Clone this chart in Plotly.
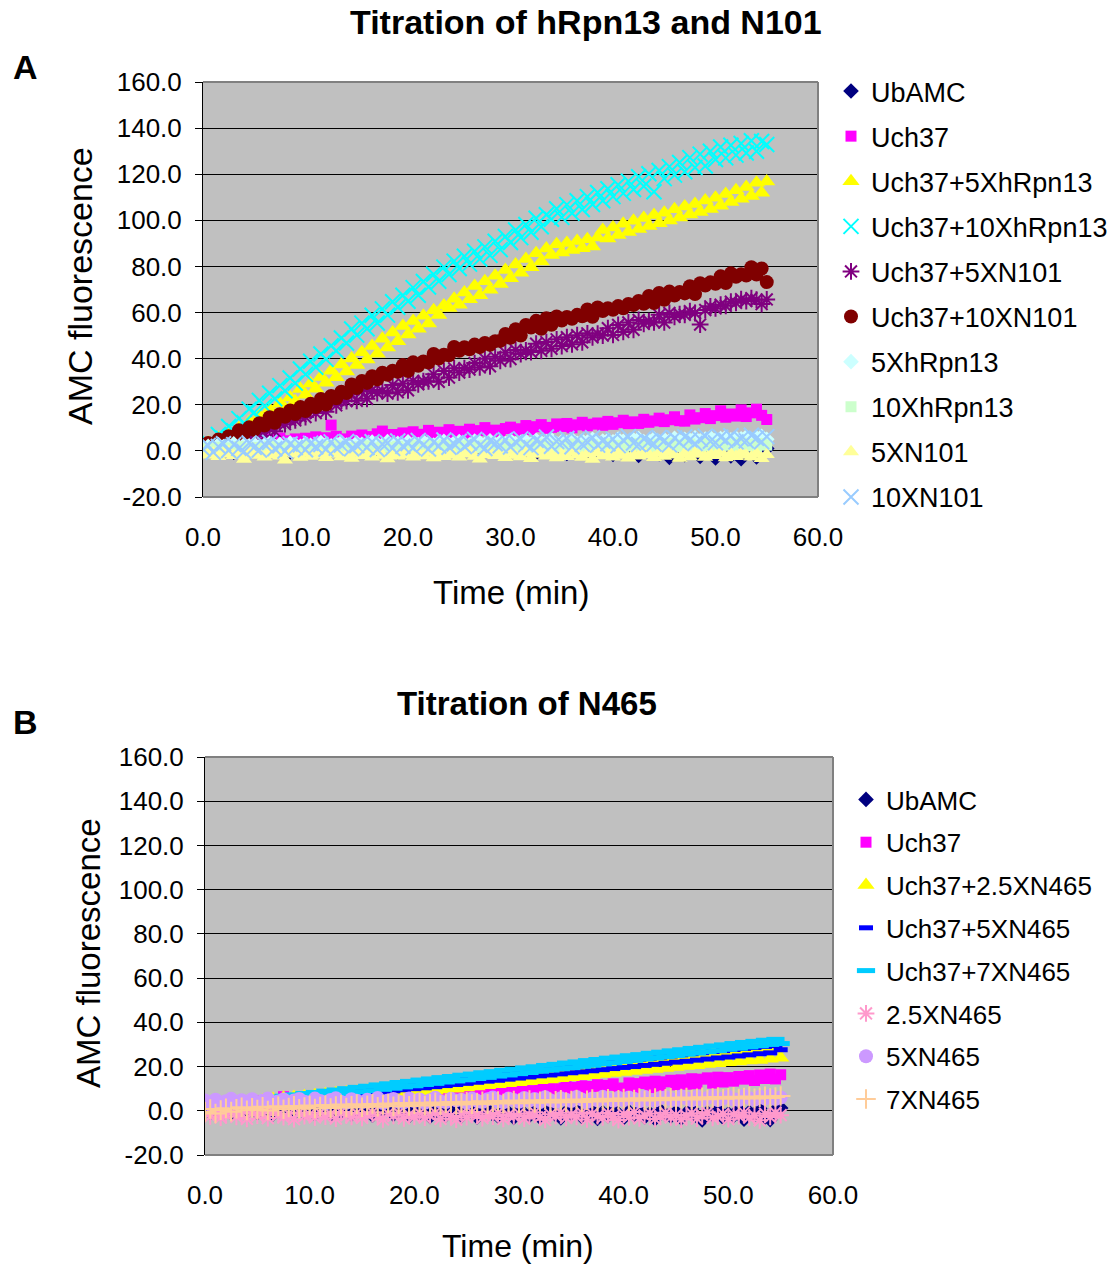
import plotly.graph_objects as go

# ---------------- data ----------------
time_min = [
    0.0, 0.5, 1.0, 1.5, 2.0, 2.5, 3.0, 3.5, 4.0, 4.5,
    5.0, 5.5, 6.0, 6.5, 7.0, 7.5, 8.0, 8.5, 9.0, 9.5,
    10.0, 10.5, 11.0, 11.5, 12.0, 12.5, 13.0, 13.5, 14.0, 14.5,
    15.0, 15.5, 16.0, 16.5, 17.0, 17.5, 18.0, 18.5, 19.0, 19.5,
    20.0, 20.5, 21.0, 21.5, 22.0, 22.5, 23.0, 23.5, 24.0, 24.5,
    25.0, 25.5, 26.0, 26.5, 27.0, 27.5, 28.0, 28.5, 29.0, 29.5,
    30.0, 30.5, 31.0, 31.5, 32.0, 32.5, 33.0, 33.5, 34.0, 34.5,
    35.0, 35.5, 36.0, 36.5, 37.0, 37.5, 38.0, 38.5, 39.0, 39.5,
    40.0, 40.5, 41.0, 41.5, 42.0, 42.5, 43.0, 43.5, 44.0, 44.5,
    45.0, 45.5, 46.0, 46.5, 47.0, 47.5, 48.0, 48.5, 49.0, 49.5,
    50.0, 50.5, 51.0, 51.5, 52.0, 52.5, 53.0, 53.5, 54.0, 54.5, 55.0]

# Panel A
a_ubamc = [
    0.5, 1.2, -0.4, 0.8, 1.5, 0.2, -0.6, 1.0, 0.4, 1.8,
    0.9, -0.2, 1.3, 0.6, 2.0, 0.1, 1.1, -0.5, 0.7, 1.6,
    0.3, 1.9, 0.8, -0.3, 1.4, 0.5, 2.1, 0.9, 0.0, 1.2,
    1.7, 0.4, -0.2, 1.5, 0.8, 2.2, 0.6, 1.0, -0.4, 1.3,
    0.7, 1.8, 0.2, 1.1, 2.4, 0.5, -0.1, 1.6, 0.9, 2.0,
    0.3, 1.4, 0.8, -0.5, 1.9, 1.2, 0.4, 2.3, 0.6, 1.5,
    -0.3, 1.0, 2.1, 0.7, 1.3, -0.8, 1.7, 0.5, 2.4, 0.9,
    1.2, -1.1, 0.6, 1.8, 2.2, -0.4, 1.0, 0.3, 2.6, 1.4,
    -1.5, 0.8, 1.9, 0.2, 2.5, -2.0, 1.1, 0.5, 3.0, -1.2,
    1.6, -2.8, 0.9, 2.2, -1.6, 1.3, 3.1, -2.4, 0.7, 2.0,
    -3.1, 1.5, 2.8, -2.2, 0.4, -3.4, 2.3, 1.1, -2.6, 3.2, 1.0]
a_uch37 = [
    1.8, 2.5, 3.1, 2.2, 3.6, 2.9, 4.0, 3.3, 2.7, 4.2,
    3.8, 4.5, 3.4, 5.0, 4.1, 5.6, 4.4, 3.9, 5.2, 4.8,
    5.5, 4.6, 6.1, 5.0, 5.7, 11.2, 6.3, 5.2, 4.9, 6.4,
    5.8, 6.9, 5.3, 6.2, 7.4, 8.6, 6.0, 7.1, 6.5, 7.8,
    6.9, 8.3, 7.2, 6.6, 8.9, 7.5, 8.1, 7.0, 9.2, 7.7,
    8.5, 7.6, 9.4, 8.0, 8.8, 10.1, 7.9, 9.0, 8.4, 9.7,
    10.3, 8.9, 9.6, 11.0, 9.2, 10.5, 11.4, 9.8, 10.2, 11.7,
    10.6, 11.9, 10.0, 11.3, 12.4, 10.9, 11.6, 12.1, 11.1, 12.8,
    11.5, 12.2, 13.3, 11.8, 12.6, 11.9, 13.7, 12.4, 13.0, 14.2,
    12.7, 13.5, 14.8, 13.1, 12.9, 15.6, 13.8, 14.4, 16.2, 14.0,
    15.3, 17.4, 14.6, 16.0, 15.1, 17.8, 14.9, 16.5, 18.1, 15.4, 13.6]
a_uch37_5xhrpn13 = [
    0.8, 3.5, 1.9, 5.6, 3.8, 7.9, 6.2, 9.8, 8.4, 12.6,
    11.2, 15.1, 13.0, 17.9, 15.8, 20.6, 18.4, 23.2, 21.5, 26.8,
    24.3, 29.2, 26.9, 32.1, 29.6, 34.8, 31.9, 37.5, 34.4, 40.1,
    37.2, 42.8, 39.6, 45.5, 42.1, 48.6, 44.8, 51.3, 47.6, 54.2,
    50.5, 56.3, 53.0, 58.6, 55.2, 61.0, 58.9, 63.1, 62.0, 66.0,
    63.4, 68.7, 65.8, 71.5, 67.5, 73.6, 69.9, 76.0, 72.4, 78.5,
    74.9, 80.8, 77.3, 83.2, 79.6, 85.7, 82.1, 87.8, 85.0, 89.6,
    86.0, 90.2, 87.1, 91.0, 87.9, 91.8, 88.7, 92.6, 95.8, 92.1,
    96.9, 93.6, 98.5, 94.9, 99.8, 96.2, 101.0, 97.5, 102.3, 98.7,
    103.3, 99.9, 104.8, 101.2, 106.0, 102.5, 107.1, 103.6, 108.6, 104.9,
    109.8, 106.3, 111.4, 107.9, 113.0, 109.4, 114.5, 110.6, 116.3, 112.0, 116.8]
a_uch37_10xhrpn13 = [
    0.4, 3.8, 2.2, 7.1, 5.4, 10.6, 8.7, 14.0, 12.2, 18.1,
    16.7, 21.9, 19.4, 25.0, 22.6, 28.3, 26.1, 31.6, 29.4, 35.5,
    33.2, 38.9, 36.3, 42.0, 39.7, 45.6, 43.4, 49.0, 46.8, 52.9,
    50.2, 55.4, 53.0, 58.8, 55.5, 61.6, 58.9, 64.7, 62.3, 67.5,
    64.9, 70.8, 67.5, 73.5, 71.1, 76.6, 73.6, 79.7, 76.5, 82.3,
    79.1, 84.4, 81.0, 86.6, 83.2, 88.5, 84.8, 90.9, 87.3, 93.0,
    90.4, 95.8, 92.5, 98.2, 94.8, 100.9, 97.2, 102.4, 100.5, 105.0,
    101.3, 106.8, 103.1, 108.5, 104.7, 110.3, 106.9, 112.1, 108.5, 113.7,
    110.3, 115.4, 111.7, 117.0, 113.4, 118.9, 114.8, 120.2, 112.4, 121.6,
    118.1, 123.3, 119.6, 125.1, 121.1, 127.2, 122.9, 128.7, 123.6, 130.0,
    126.4, 131.8, 127.1, 132.6, 128.3, 133.3, 129.2, 134.5, 130.0, 134.2, 132.9]
a_uch37_5xn101 = [
    0.8, 2.4, 0.3, 3.1, 1.2, 3.6, 2.5, 4.0, 3.7, 6.2,
    4.9, 8.0, 6.5, 9.9, 8.5, 12.0, 11.6, 13.3, 13.2, 15.0,
    14.7, 17.5, 16.4, 19.8, 17.0, 21.6, 19.8, 21.8, 21.6, 24.6,
    21.7, 25.8, 22.6, 26.4, 25.1, 26.1, 24.9, 28.6, 25.4, 29.2,
    26.3, 30.4, 28.9, 30.2, 30.2, 33.2, 30.0, 34.7, 31.8, 35.8,
    34.0, 35.9, 35.3, 38.1, 36.2, 40.0, 36.7, 40.8, 39.1, 42.7,
    39.8, 43.8, 42.0, 43.6, 42.9, 46.5, 43.4, 47.2, 44.3, 48.4,
    45.5, 49.3, 46.2, 50.2, 47.1, 51.0, 49.2, 50.8, 50.0, 53.2,
    50.3, 54.6, 51.6, 55.7, 52.5, 56.8, 55.1, 56.3, 55.8, 59.0,
    55.7, 59.8, 58.1, 59.3, 59.0, 60.6, 59.8, 54.8, 61.1, 62.7,
    61.8, 63.4, 62.9, 64.7, 64.2, 65.8, 65.0, 66.2, 65.6, 63.7, 65.7]
a_uch37_10xn101 = [
    2.1, 3.4, 2.6, 4.9, 3.9, 6.4, 5.5, 8.9, 7.4, 10.2,
    9.1, 12.0, 11.0, 14.6, 12.2, 15.9, 14.8, 17.5, 16.0, 19.0,
    17.3, 20.4, 19.0, 22.5, 20.1, 23.8, 22.8, 25.7, 25.1, 28.8,
    27.3, 30.3, 29.5, 32.4, 31.0, 33.9, 33.0, 34.8, 34.3, 37.2,
    34.6, 38.4, 36.9, 38.8, 38.3, 42.0, 40.1, 41.7, 41.5, 45.1,
    43.4, 45.0, 44.1, 46.1, 45.0, 46.8, 46.0, 47.6, 47.7, 50.7,
    49.1, 52.8, 50.0, 54.6, 53.5, 56.4, 53.0, 57.5, 54.7, 58.3,
    56.5, 58.1, 57.3, 59.0, 58.4, 61.3, 58.2, 62.2, 60.7, 61.9,
    61.2, 62.8, 61.9, 63.7, 63.3, 65.0, 63.8, 67.2, 64.1, 68.5,
    65.5, 69.1, 67.4, 68.9, 68.3, 71.4, 68.0, 72.7, 71.7, 73.1,
    72.5, 75.7, 72.8, 77.0, 75.5, 76.6, 76.1, 79.7, 76.5, 79.1, 73.2]
a_5xhrpn13 = [
    1.2, 2.0, 1.5, 2.8, 1.9, 2.4, 3.1, 1.7, 2.6, 2.2,
    3.0, 1.8, 2.5, 3.3, 2.1, 2.9, 1.6, 3.4, 2.7, 2.0,
    3.2, 2.4, 1.9, 3.6, 2.8, 2.2, 3.0, 3.7, 2.5, 1.8,
    3.5, 2.9, 2.3, 3.8, 3.1, 2.6, 4.0, 2.8, 3.3, 2.1,
    3.9, 3.0, 2.7, 4.1, 3.4, 2.5, 3.7, 4.2, 2.9, 3.5,
    4.0, 3.2, 2.6, 4.3, 3.6, 3.0, 4.4, 2.8, 3.9, 3.3,
    4.5, 3.1, 3.7, 4.2, 2.9, 4.6, 3.5, 3.9, 4.8, 3.2,
    4.1, 3.6, 4.9, 3.3, 4.4, 3.8, 5.0, 3.5, 4.3, 4.7,
    3.9, 5.1, 4.2, 3.6, 4.8, 5.3, 4.0, 4.5, 5.2, 3.8,
    4.9, 4.3, 5.5, 4.1, 5.0, 4.6, 5.7, 4.4, 5.1, 5.8,
    4.7, 5.4, 6.0, 4.8, 5.6, 5.2, 6.1, 4.9, 5.7, 6.3, 5.0]
a_10xhrpn13 = [
    0.5, 1.1, 0.2, 1.6, 0.8, 1.3, 0.4, 1.9, 1.0, 0.6,
    1.5, 0.3, 1.2, 2.0, 0.7, 1.4, 0.9, 1.8, 0.1, 1.3,
    2.1, 0.8, 1.6, 0.4, 1.9, 1.1, 2.3, 0.6, 1.4, 1.0,
    1.8, 0.5, 2.2, 1.3, 0.9, 2.4, 1.5, 0.7, 2.0, 1.2,
    0.8, 2.5, 1.6, 1.1, 2.3, 0.6, 1.9, 2.6, 1.0, 1.7,
    2.2, 0.9, 2.7, 1.4, 1.8, 2.4, 0.7, 2.1, 1.5, 2.8,
    1.2, 2.3, 1.9, 0.8, 2.6, 1.6, 2.9, 1.3, 2.0, 1.1,
    2.5, 1.8, 3.0, 1.4, 2.2, 0.9, 2.7, 2.0, 1.5, 3.1,
    1.7, 2.4, 1.0, 2.8, 2.1, 3.2, 1.6, 2.5, 1.3, 2.9,
    2.2, 3.3, 1.8, 2.6, 1.4, 3.0, 2.3, 1.9, 3.4, 2.0,
    2.7, 1.5, 3.1, 2.4, 1.8, 3.5, 2.1, 2.9, 1.6, 3.2, 2.5]
a_5xn101 = [
    -0.5, -1.8, -0.9, -2.4, -1.2, -0.3, -2.0, -1.5, -3.6, -0.8,
    -1.9, -1.1, -2.6, -0.4, -1.7, -2.2, -3.9, -0.9, -1.4, -2.8,
    -1.0, -2.3, -0.6, -1.8, -2.9, -1.3, -0.7, -2.5, -1.6, -3.2,
    -0.9, -2.0, -1.4, -2.7, -0.5, -1.9, -3.4, -1.1, -2.2, -0.8,
    -1.7, -2.6, -1.0, -2.1, -0.6, -3.0, -1.5, -2.4, -0.9, -1.8,
    -2.7, -1.2, -0.4, -2.3, -3.5, -1.6, -0.8, -2.0, -1.3, -2.9,
    -0.7, -1.9, -2.5, -1.0, -3.3, -1.5, -0.6, -2.2, -1.8, -3.0,
    -1.1, -2.4, -0.5, -1.7, -2.8, -1.2, -3.6, -0.9, -2.1, -1.4,
    -2.6, -0.8, -1.9, -3.1, -1.3, -2.2, -0.7, -1.6, -2.9, -1.0,
    -2.3, -0.6, -1.8, -3.2, -1.1, -2.5, -0.9, -1.5, -2.8, -1.2,
    -2.0, -0.7, -3.0, -1.4, -2.4, -0.8, -1.9, -2.6, -1.1, -3.3, -1.6]
a_10xn101 = [
    0.8, 2.4, -0.6, 1.9, 3.1, 0.2, 2.7, 1.1, -0.3, 3.4,
    1.6, 0.4, 2.9, 3.7, 0.9, 2.2, -0.1, 3.0, 1.4, 2.6,
    0.5, 3.3, 1.8, 2.8, 0.7, 3.9, 1.2, 2.5, 4.1, 0.9,
    2.3, 3.6, 1.5, 4.0, 0.6, 2.9, 3.4, 1.1, 4.3, 2.0,
    3.2, 1.3, 4.5, 2.6, 0.8, 3.8, 2.1, 4.7, 1.6, 3.0,
    4.2, 1.9, 3.5, 5.0, 2.4, 1.0, 4.4, 3.1, 2.2, 4.8,
    1.7, 3.9, 5.2, 2.7, 1.4, 4.6, 3.3, 6.0, 2.0, 4.1,
    3.6, 5.4, 1.8, 4.9, 2.9, 3.8, 5.7, 2.5, 4.3, 3.1,
    5.1, 2.3, 4.6, 6.2, 3.4, 2.8, 5.3, 4.0, 3.0, 5.8,
    4.4, 2.6, 5.6, 3.7, 6.1, 4.8, 3.2, 5.0, 6.4, 4.2,
    3.5, 5.9, 4.6, 6.6, 3.9, 5.2, 4.4, 6.8, 5.5, 4.0, 6.2]

# Panel B
b_ubamc = [
    0.6, -0.8, 1.2, -0.3, 0.9, -1.1, 0.4, 1.5, -0.6, 0.2,
    -0.9, 1.0, 0.3, -1.4, 0.8, -0.2, 1.3, -1.0, 0.5, -0.7,
    1.1, -1.3, 0.0, 0.7, -1.8, 0.4, -0.5, 1.2, -1.5, 0.1,
    -0.9, 0.9, -2.0, 0.3, -0.6, 1.0, -1.7, -0.2, 0.6, -2.3,
    0.2, -1.1, 0.8, -2.6, -0.4, 0.5, -1.9, -0.8, 1.1, -2.2,
    -0.3, 0.7, -2.8, -1.0, 0.4, -1.6, -2.5, 0.2, -0.9, -3.0,
    0.6, -1.4, -2.1, 0.0, -2.9, -0.7, 0.9, -1.8, -3.2, -0.5,
    -1.2, 0.4, -2.7, -1.9, 0.2, -3.5, -0.8, -2.2, 0.7, -1.5,
    -3.1, -0.4, -2.0, 0.5, -2.8, -1.3, -3.6, 0.1, -1.7, -2.4,
    -0.6, -3.3, -1.0, 0.8, -2.6, -4.2, -0.9, -1.8, 0.4, -3.0,
    -1.4, -2.2, 0.6, -3.8, -0.7, -1.9, 1.0, -2.9, -4.0, 0.3, 1.2]
b_uch37 = [
    1.2, 2.6, 0.4, 2.2, 3.0, 0.9, 3.4, 2.0, 1.5, 3.9,
    2.0, 4.4, 2.4, 5.0, 2.9, 6.4, 3.2, 5.2, 3.4, 5.8,
    3.5, 5.6, 4.6, 3.4, 6.0, 3.9, 6.5, 3.7, 6.1, 4.1,
    6.7, 4.2, 5.4, 6.9, 4.6, 7.7, 4.4, 6.6, 7.1, 4.8,
    7.3, 5.1, 7.8, 4.9, 7.5, 8.1, 5.4, 7.7, 8.4, 5.6,
    7.9, 8.7, 5.8, 8.3, 9.0, 6.2, 8.6, 9.3, 6.5, 8.9,
    6.9, 9.7, 9.1, 7.2, 10.0, 7.8, 10.5, 7.6, 10.2, 10.9,
    8.3, 10.6, 11.3, 8.7, 11.0, 11.8, 9.1, 11.5, 12.2, 9.6,
    10.3, 12.6, 10.0, 12.3, 13.0, 10.5, 13.4, 11.1, 13.1, 13.8,
    11.7, 14.0, 12.0, 14.5, 12.2, 14.3, 14.9, 12.5, 15.2, 13.0,
    15.0, 13.4, 15.5, 14.3, 15.9, 13.7, 16.2, 14.6, 16.6, 14.4, 16.3]
b_uch37_25xn465 = [
    0.9, 2.4, 1.0, 2.9, 1.6, 3.6, 1.8, 3.9, 2.5, 4.0,
    2.8, 4.6, 3.2, 5.3, 3.6, 5.9, 4.0, 6.2, 4.3, 6.6,
    4.7, 7.0, 5.0, 7.5, 5.4, 7.9, 5.7, 8.3, 6.1, 8.6,
    6.4, 9.1, 6.7, 9.5, 7.0, 10.0, 7.4, 10.4, 7.8, 10.9,
    8.3, 11.3, 8.7, 11.8, 9.1, 12.4, 9.6, 12.9, 10.0, 13.4,
    10.5, 14.0, 11.0, 14.5, 11.5, 15.0, 12.0, 15.6, 12.4, 16.1,
    12.9, 16.7, 13.3, 17.2, 13.8, 17.8, 14.2, 18.4, 14.7, 18.9,
    15.2, 19.4, 15.6, 20.0, 16.1, 20.5, 16.6, 21.0, 17.1, 21.6,
    17.5, 22.0, 18.0, 22.5, 18.4, 23.1, 18.9, 23.6, 19.3, 24.0,
    19.8, 24.5, 20.2, 25.0, 20.6, 25.4, 21.1, 25.9, 21.5, 26.3,
    21.9, 26.7, 22.3, 27.0, 22.7, 27.4, 23.0, 27.8, 23.5, 28.1, 24.0]
b_uch37_5xn465 = [
    1.0, 2.3, 0.6, 2.9, 1.4, 3.4, 1.7, 3.9, 2.2, 4.3,
    2.6, 4.9, 3.1, 5.5, 3.5, 6.1, 4.0, 6.6, 4.5, 7.2,
    5.0, 7.6, 5.4, 8.3, 5.9, 8.8, 6.5, 9.3, 7.0, 9.8,
    7.5, 10.3, 8.0, 10.9, 8.5, 11.3, 9.0, 11.8, 9.5, 12.4,
    10.0, 12.8, 10.4, 13.4, 10.9, 13.8, 11.4, 14.3, 11.9, 14.8,
    12.4, 15.3, 12.9, 15.8, 13.4, 16.3, 13.8, 16.8, 14.3, 17.3,
    14.8, 17.8, 15.3, 18.3, 15.8, 18.8, 16.2, 19.3, 16.7, 19.8,
    17.2, 20.3, 17.6, 20.8, 18.1, 21.3, 18.6, 21.8, 19.1, 22.3,
    19.6, 22.8, 20.0, 23.3, 20.5, 23.8, 21.0, 24.3, 21.5, 24.8,
    22.0, 25.3, 22.4, 25.8, 22.9, 26.3, 23.4, 26.8, 23.9, 27.2,
    24.3, 27.7, 24.8, 28.2, 25.3, 28.6, 25.8, 29.1, 26.2, 29.5, 27.6]
b_uch37_7xn465 = [
    1.5, 3.0, 1.2, 3.6, 2.0, 4.1, 2.4, 4.6, 2.9, 5.0,
    3.4, 5.5, 3.9, 6.1, 4.4, 6.6, 4.9, 7.2, 5.4, 7.8,
    5.9, 8.3, 6.4, 8.9, 6.9, 9.4, 7.5, 10.0, 8.0, 10.6,
    8.6, 11.1, 9.1, 11.7, 9.7, 12.2, 10.2, 12.8, 10.8, 13.3,
    11.3, 13.9, 11.9, 14.4, 12.4, 15.0, 13.0, 15.5, 13.5, 16.1,
    14.0, 16.6, 14.6, 17.2, 15.1, 17.7, 15.7, 18.3, 16.2, 18.8,
    16.8, 19.4, 17.3, 19.9, 17.9, 20.5, 18.4, 21.0, 19.0, 21.6,
    19.5, 22.1, 20.1, 22.7, 20.6, 23.2, 21.2, 23.8, 21.7, 24.3,
    22.3, 24.9, 22.8, 25.4, 23.4, 26.0, 23.9, 26.5, 24.5, 27.1,
    25.0, 27.6, 25.6, 28.2, 26.1, 28.7, 26.7, 29.3, 27.2, 29.8,
    27.8, 30.4, 28.3, 30.9, 28.9, 31.4, 29.4, 31.9, 30.0, 32.3, 30.4]
b_25xn465 = [
    -1.2, -2.5, -0.6, -3.1, -1.8, -0.9, -2.7, -1.4, -3.6, -0.7,
    -2.2, -1.1, -3.3, -0.5, -2.0, -2.9, -1.3, -3.8, -0.8, -2.4,
    -1.6, -3.0, -0.9, -2.6, -1.4, -3.5, -0.6, -2.1, -2.8, -1.0,
    -3.2, -1.7, -0.7, -2.5, -3.9, -1.2, -2.3, -0.9, -3.4, -1.8,
    -2.7, -1.0, -3.1, -2.0, -0.8, -3.6, -1.5, -2.4, -4.0, -1.1,
    -2.9, -0.6, -2.2, -3.3, -1.4, -2.6, -0.9, -3.7, -1.9, -2.5,
    -1.2, -3.5, -2.0, -0.7, -2.8, -4.1, -1.6, -2.3, -0.9, -3.2,
    -1.8, -2.7, -0.8, -3.9, -1.3, -2.4, -3.0, -1.0, -2.6, -4.2,
    -1.5, -2.9, -0.6, -3.4, -2.1, -1.2, -3.7, -2.5, -0.9, -3.0,
    -1.9, -4.0, -2.3, -1.1, -3.5, -2.0, -0.7, -3.2, -2.6, -1.4,
    -3.8, -1.7, -2.4, -0.8, -3.1, -2.2, -4.3, -1.3, -2.8, -0.9, -2.0]
b_5xn465 = [
    4.6, 3.2, 5.0, 3.8, 4.3, 5.4, 3.5, 4.8, 4.0, 5.2,
    3.6, 4.5, 5.6, 3.9, 4.2, 5.1, 3.4, 4.7, 5.3, 4.1,
    3.7, 5.5, 4.4, 3.3, 4.9, 5.7, 4.0, 3.6, 5.2, 4.5,
    3.9, 5.0, 4.3, 5.8, 3.5, 4.6, 5.3, 4.1, 3.8, 5.6,
    4.4, 5.1, 3.6, 4.8, 5.9, 4.2, 3.9, 5.4, 4.7, 5.0,
    3.7, 5.6, 4.5, 4.0, 5.2, 6.0, 4.3, 3.8, 5.5, 4.9,
    4.1, 5.8, 4.6, 5.3, 3.9, 6.1, 4.8, 4.2, 5.7, 5.0,
    4.4, 6.2, 5.1, 4.0, 5.6, 4.7, 6.3, 5.2, 4.5, 5.9,
    4.8, 6.0, 5.4, 4.3, 6.4, 5.0, 4.6, 5.8, 6.1, 5.3,
    4.9, 6.5, 5.5, 4.7, 6.2, 5.1, 5.8, 6.6, 4.8, 5.6,
    6.3, 5.2, 4.9, 6.7, 5.7, 5.0, 6.4, 5.5, 6.8, 5.3, 6.0]
b_7xn465 = [
    -0.5, 0.8, -1.2, 0.3, 1.1, -0.4, 0.9, 1.6, 0.2, 1.3,
    0.6, 1.8, 0.1, 1.4, 2.0, 0.7, 1.5, 2.2, 0.9, 1.7,
    2.4, 1.0, 1.9, 2.6, 1.2, 2.1, 2.8, 1.5, 2.3, 3.0,
    1.6, 2.5, 3.1, 1.8, 2.7, 3.3, 2.0, 2.9, 3.5, 2.2,
    3.0, 3.6, 2.4, 3.2, 3.8, 2.6, 3.4, 4.0, 2.8, 3.5,
    4.1, 3.0, 3.7, 4.3, 3.1, 3.9, 4.4, 3.3, 4.0, 4.6,
    3.4, 4.2, 4.8, 3.6, 4.3, 4.9, 3.8, 4.5, 5.0, 3.9,
    4.6, 5.1, 4.0, 4.7, 5.3, 4.2, 4.9, 5.4, 4.4, 5.0,
    5.5, 4.5, 5.1, 5.7, 4.7, 5.2, 5.8, 4.8, 5.4, 5.9,
    5.0, 5.5, 6.0, 5.1, 5.6, 6.1, 5.2, 5.8, 6.2, 5.4,
    5.9, 6.3, 5.5, 6.0, 6.5, 5.6, 6.1, 6.6, 5.8, 6.2, 6.7]

x_ticks = [0, 10, 20, 30, 40, 50, 60]
x_tick_labels = ["0.0", "10.0", "20.0", "30.0", "40.0", "50.0", "60.0"]
y_ticks = [-20, 0, 20, 40, 60, 80, 100, 120, 140, 160]
y_tick_labels = ["-20.0", "0.0", "20.0", "40.0", "60.0", "80.0", "100.0",
                 "120.0", "140.0", "160.0"]

names_a = ["UbAMC", "Uch37", "Uch37+5XhRpn13", "Uch37+10XhRpn13", "Uch37+5XN101",
           "Uch37+10XN101", "5XhRpn13", "10XhRpn13", "5XN101", "10XN101"]
values_a = [a_ubamc, a_uch37, a_uch37_5xhrpn13, a_uch37_10xhrpn13, a_uch37_5xn101,
            a_uch37_10xn101, a_5xhrpn13, a_10xhrpn13, a_5xn101, a_10xn101]
names_b = ["UbAMC", "Uch37", "Uch37+2.5XN465", "Uch37+5XN465", "Uch37+7XN465",
           "2.5XN465", "5XN465", "7XN465"]
values_b = [b_ubamc, b_uch37, b_uch37_25xn465, b_uch37_5xn465, b_uch37_7xn465,
            b_25xn465, b_5xn465, b_7xn465]

# ---------------- styles ----------------
styles_a = [
    dict(symbol="diamond", color="#000080", size=12, lw=0),
    dict(symbol="square", color="#FF00FF", size=11, lw=0),
    dict(symbol="triangle-up", color="#FFFF00", size=15, lw=0),
    dict(symbol="x-thin-open", color="#00FFFF", size=15, lw=2),
    dict(symbol="asterisk-open", color="#800080", size=14, lw=2),
    dict(symbol="circle", color="#800000", size=14, lw=0),
    dict(symbol="diamond", color="#CCFFFF", size=12, lw=0),
    dict(symbol="square", color="#CCFFCC", size=11, lw=0),
    dict(symbol="triangle-up", color="#FFFF99", size=14, lw=0),
    dict(symbol="x-thin-open", color="#99CCFF", size=15, lw=2),
]
styles_b = [
    dict(symbol="diamond", color="#000080", size=12, lw=0),
    dict(symbol="square", color="#FF00FF", size=11, lw=0),
    dict(symbol="triangle-up", color="#FFFF00", size=15, lw=0),
    dict(symbol="line-ew-open", color="#0000FF", size=10, lw=5),
    dict(symbol="line-ew-open", color="#00CCFF", size=13, lw=5),
    dict(symbol="asterisk-open", color="#FF99CC", size=14, lw=2),
    dict(symbol="circle", color="#CC99FF", size=14, lw=0),
    dict(symbol="cross-thin-open", color="#FFCC99", size=14, lw=2),
]

W, H = 1112, 1266
FONT = "Liberation Sans, Arial, sans-serif"


def px(xp):
    return xp / W


def py(yp):
    return 1 - yp / H


fig = go.Figure()


def add_series(names, values, styles, xa, ya, legend, prefix):
    for n, v, s in zip(names, values, styles):
        fig.add_trace(go.Scatter(
            x=time_min, y=v, name=n, mode="markers", xaxis=xa, yaxis=ya,
            legend=legend, legendgroup=prefix + n,
            marker=dict(symbol=s["symbol"], color=s["color"], size=s["size"],
                        line=dict(color=s["color"], width=s["lw"])),
            hoverinfo="skip",
        ))


add_series(names_a, values_a, styles_a, "x", "y", "legend", "a_")
add_series(names_b, values_b, styles_b, "x2", "y2", "legend2", "b_")

tick_font = dict(family=FONT, size=26, color="black")

common_x = dict(range=[0, 60], tickvals=x_ticks, ticktext=x_tick_labels, showgrid=False,
                zeroline=False, showline=False, ticks="outside", ticklen=0,
                tickfont=tick_font, ticklabelstandoff=17, fixedrange=True,
                automargin=False)
common_y = dict(range=[-20, 160], tickvals=y_ticks, ticktext=y_tick_labels, showgrid=True,
                gridcolor="black", gridwidth=1, zeroline=True, zerolinecolor="black",
                zerolinewidth=1, showline=True, linecolor="black", linewidth=1,
                ticks="outside", ticklen=7, tickcolor="black", tickwidth=1,
                tickfont=tick_font, ticklabelstandoff=8, fixedrange=True,
                automargin=False)

fig.update_layout(
    width=W, height=H, margin=dict(l=0, r=0, t=0, b=0, autoexpand=False),
    paper_bgcolor="white", plot_bgcolor="#C0C0C0",
    font=dict(family=FONT, color="black"),
    xaxis=dict(domain=[px(203), px(818)], anchor="y", **common_x),
    yaxis=dict(domain=[py(497), py(82)], anchor="x", **common_y),
    xaxis2=dict(domain=[px(205), px(833)], anchor="y2", **common_x),
    yaxis2=dict(domain=[py(1155), py(757)], anchor="x2", **common_y),
    legend=dict(x=px(831), y=py(67), xanchor="left", yanchor="top",
                font=dict(family=FONT, size=27, color="black"),
                traceorder="grouped", tracegroupgap=7, itemsizing="trace",
                bgcolor="rgba(0,0,0,0)"),
    legend2=dict(x=px(846), y=py(776), xanchor="left", yanchor="top",
                 font=dict(family=FONT, size=26, color="black"),
                 traceorder="grouped", tracegroupgap=6, itemsizing="trace",
                 bgcolor="rgba(0,0,0,0)"),
    showlegend=True,
)

shapes = []
for xr, yr, scale in (("x", "y", 2.6), ("x2", "y2", 2.7)):
    dom_x, dom_y = xr + " domain", yr + " domain"
    for (x0, y0, x1, y1) in ((0, 1, 1, 1), (1, 0, 1, 1), (0, 0, 1, 0)):
        shapes.append(dict(type="line", xref=dom_x, yref=dom_y, x0=x0, y0=y0,
                           x1=x1, y1=y1, line=dict(color="#808080", width=2),
                           layer="above"))
    for tv in x_ticks[1:]:
        shapes.append(dict(type="line", xref=xr, yref=yr, x0=tv, x1=tv, y0=0,
                           y1=-scale, line=dict(color="black", width=1),
                           layer="below"))
fig.update_layout(shapes=shapes)

ann = []


def text(t, x, y, size, bold=False, angle=0):
    ann.append(dict(text=("<b>%s</b>" % t) if bold else t, x=px(x), y=py(y),
                    xref="paper", yref="paper", xanchor="center", yanchor="middle",
                    showarrow=False, textangle=angle,
                    font=dict(family=FONT, size=size, color="black")))


text("Titration of hRpn13 and N101", 586, 22, 34, bold=True)
text("Titration of N465", 527, 703, 33, bold=True)
text("A", 25, 67, 34, bold=True)
text("B", 25, 722, 34, bold=True)
text("AMC fluorescence", 80, 286, 34, angle=-90)
text("AMC fluorescence", 88, 953, 33, angle=-90)
text("Time (min)", 511, 592, 33)
text("Time (min)", 518, 1246, 32)
fig.update_layout(annotations=ann)

fig.write_html("out.html")
